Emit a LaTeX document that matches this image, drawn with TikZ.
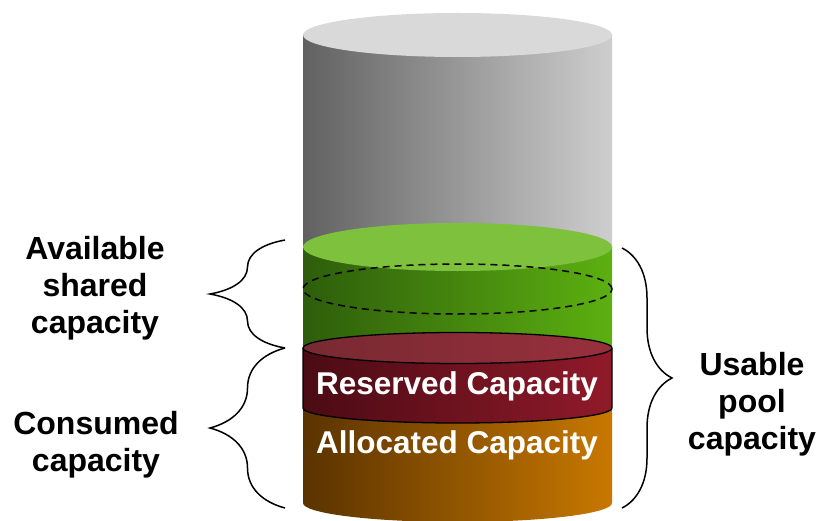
\documentclass[tikz,border=0pt]{standalone}
\usepackage{fontspec}
\setmainfont{Liberation Sans}
\usepackage{tikz}
\usetikzlibrary{decorations.pathreplacing}
\definecolor{graydark}{HTML}{616161}
\definecolor{graymid}{HTML}{A2A2A2}
\definecolor{graylight}{HTML}{CECECE}
\definecolor{graytop}{HTML}{D9D9D9}
\definecolor{greendark}{HTML}{2E5D0B}
\definecolor{greenlight}{HTML}{5CB011}
\definecolor{greentop}{HTML}{7DC13D}
\definecolor{reddark}{HTML}{4B0B14}
\definecolor{redlight}{HTML}{901A2A}
\definecolor{redtopdark}{HTML}{782932}
\definecolor{redtoplight}{HTML}{98303C}
\definecolor{orangedark}{HTML}{5A3300}
\definecolor{orangelight}{HTML}{C87800}
\tikzstyle{sidetext} = [align=center, text=black, font=\fontsize{32}{37}\selectfont\bfseries]
\tikzstyle{bandtext} = [text=white, font=\fontsize{31.5}{37}\selectfont\bfseries]
\tikzstyle{curly} = [draw=black, line width=1.5pt, decorate, decoration={brace, amplitude=#1}]
\tikzstyle{rim} = [draw=black, line width=1.3pt]

\begin{document}
\begin{tikzpicture}[x=1pt, y=-1pt]
\useasboundingbox (0,0) rectangle (818,521);

% gray pool
\shade[left color=graydark, middle color=graymid, right color=graylight] (303,35) rectangle (612,247);
\fill[graytop] (457.5,35) ellipse[x radius=154.5pt, y radius=22pt];

% green shared part
\shade[left color=greendark, right color=greenlight] (303,247) rectangle (612,348);
\fill[greentop] (457.5,247) ellipse[x radius=154.5pt, y radius=24pt];
\draw[line width=1.5pt, dash pattern=on 7pt off 5pt] (457.5,289) ellipse[x radius=154.5pt, y radius=25pt];

% allocated part
\shade[left color=orangedark, right color=orangelight] (303,408) -- (303,503)
  arc[start angle=180, end angle=360, x radius=154.5pt, y radius=19pt] -- (612,408) -- cycle;

% reserved band
\shade[left color=reddark, right color=redlight] (303,348) -- (303,408)
  arc[start angle=180, end angle=360, x radius=154.5pt, y radius=15pt] -- (612,348) -- cycle;
\draw[rim] (303,348) -- (303,408)
  arc[start angle=180, end angle=360, x radius=154.5pt, y radius=15pt] -- (612,348);
\shadedraw[rim, left color=redtopdark, right color=redtoplight] (457.5,348) ellipse[x radius=154.5pt, y radius=15.5pt];

\node[bandtext] (reserved) at (457,386) {Reserved Capacity};
\node[bandtext] (allocated) at (457,445) {Allocated Capacity};

% braces
\coordinate (avtop) at (285,240);
\coordinate (avbot) at (285,348);
\coordinate (cobot) at (285,508);
\coordinate (ustop) at (622,248);
\coordinate (usbot) at (622,508);
\draw[curly=75pt] (avbot) -- (avtop);
\draw[curly=75pt] (cobot) -- (avbot);
\draw[curly=50pt] (ustop) -- (usbot);

\node[sidetext] (available) at (95,288) {Available\\shared\\capacity};
\node[sidetext] (consumed) at (96,445) {Consumed\\capacity};
\node[sidetext] (usable) at (752,404) {Usable\\pool\\capacity};
\end{tikzpicture}
\end{document}
